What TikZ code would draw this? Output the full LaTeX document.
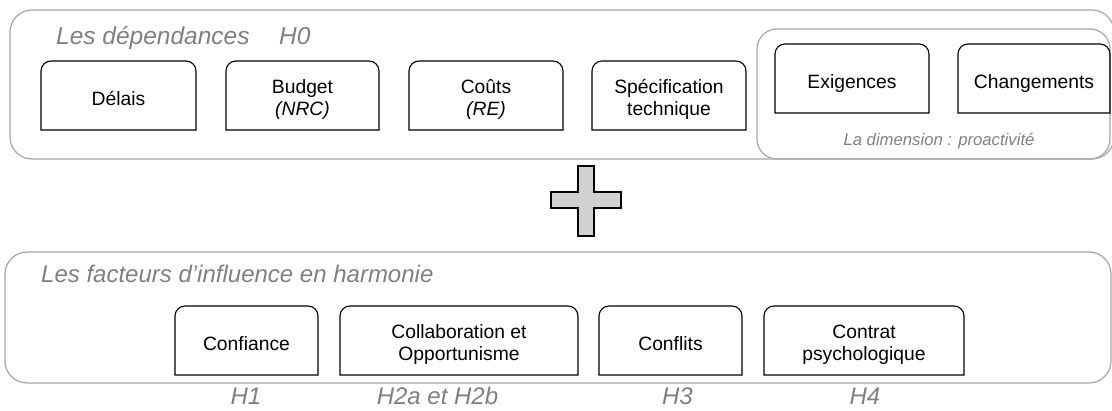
\documentclass[tikz,border=0pt]{standalone}
\usepackage{fontspec}
\setmainfont{Liberation Sans}
\begin{document}
\begin{tikzpicture}[x=1pt,y=-1pt,
  frame/.style={draw=black!35,line width=1.2pt,rounded corners=22pt},
  label/.style={inner sep=0pt,outer sep=0pt,align=center,
    text height=20pt,text depth=0pt,
    font=\fontsize{19.3}{22.5}\selectfont},
  twoline/.style={text height=41pt},
  topbox/.style={label,minimum width=154pt,minimum height=69pt},
  lowbox/.style={label,minimum height=69pt},
  edge/.style={draw=black,line width=1.1pt},
  heading/.style={inner sep=0pt,anchor=base west,text=black!50,
    font=\fontsize{24.5}{28}\selectfont\itshape},
  hyp/.style={inner sep=0pt,anchor=base,text=black!50,
    font=\fontsize{24}{28}\selectfont\itshape}]
\useasboundingbox (0,0) rectangle (1112,411);

% containers
\draw[frame] (10,10) rectangle (1114,159);
\draw[frame,rounded corners=20pt] (757,29) rectangle (1110,159);
\draw[frame] (5,252) rectangle (1111,383);

% headings
\node[heading] (tDep) at (56,45) {Les dépendances};
\node[heading] (tH0) at (279,45) {H0};
\node[heading,font=\fontsize{24}{28}\selectfont\itshape] (tFac) at (41,283)
  {Les facteurs d'influence en harmonie};
\node[inner sep=0pt,anchor=base,text=black!50,
  font=\fontsize{16.7}{20}\selectfont\itshape] (tPro) at (939,146)
  {La dimension : proactivité};

% dependencies
\node[topbox,minimum width=155pt] (delais) at (118.5,95.5) {Délais};
\node[topbox,twoline,minimum width=153pt] (budget) at (302.5,95.5) {Budget\\\textit{(NRC)}};
\node[topbox,twoline] (couts) at (486,95.5) {Coûts\\\textit{(RE)}};
\node[topbox,twoline] (spec) at (669,95.5) {Spécification\\technique};
\node[topbox] (exig) at (852,78.5) {Exigences};
\node[topbox,minimum width=152pt] (chang) at (1034,78.5) {Changements};

% influence factors
\node[lowbox,minimum width=143pt] (conf) at (246.5,340.5) {Confiance};
\node[lowbox,twoline,minimum width=238pt] (collab) at (459,340.5) {Collaboration et\\Opportunisme};
\node[lowbox,minimum width=143pt] (confl) at (670.5,340.5) {Conflits};
\node[lowbox,twoline,minimum width=200pt] (contrat) at (864,340.5) {Contrat\\psychologique};

% boxes with rounded top corners only
\foreach \n in {delais,budget,couts,spec,exig,chang,conf,collab,confl,contrat}
  \draw[edge] (\n.south west) [rounded corners=10pt] -- (\n.north west)
    -- (\n.north east) [sharp corners] -- (\n.south east) -- cycle;

% hypotheses
\node[hyp] (h1) at (246,405) {H1};
\node[hyp] (h2) at (437.5,405) {H2a et H2b};
\node[hyp] (h3) at (677.5,405) {H3};
\node[hyp] (h4) at (865,405) {H4};

% plus sign
\draw[line width=2.6pt,fill=black!18,line join=miter]
  (578,166) -- (594,166) -- (594,192) -- (621,192) -- (621,208) -- (594,208)
  -- (594,236) -- (578,236) -- (578,208) -- (551,208) -- (551,192) -- (578,192)
  -- cycle;
\end{tikzpicture}
\end{document}
